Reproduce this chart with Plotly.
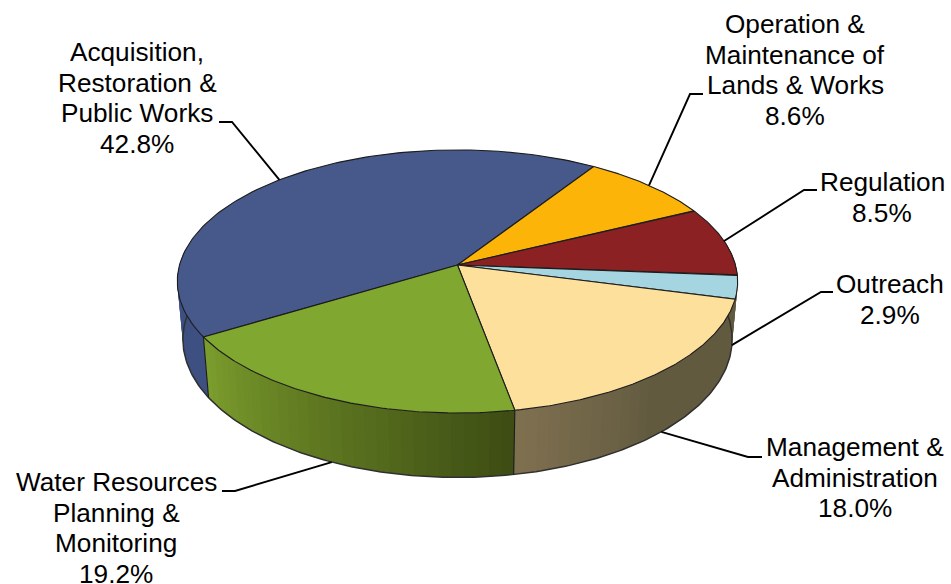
import numpy as np
import plotly.graph_objects as go

# Budget shares, clockwise from the left-front edge of the disc
categories = ["Acquisition, Restoration & Public Works", "Operation & Maintenance of Lands & Works",
              "Regulation", "Outreach", "Management & Administration",
              "Water Resources Planning & Monitoring"]
shares = [42.8, 8.6, 8.5, 2.9, 18.0, 19.2]
label_lines = [
    ["Acquisition,", "Restoration &", "Public Works", "42.8%"],
    ["Operation &", "Maintenance of", "Lands & Works", "8.6%"],
    ["Regulation", "8.5%"],
    ["Outreach", "2.9%"],
    ["Management &", "Administration", "18.0%"],
    ["Water Resources", "Planning &", "Monitoring", "19.2%"],
]
top_colors = ["#46598A", "#FDB409", "#8B2122", "#A6D5E2", "#FCE09B", "#80A72F"]
# Wall shading, left end then right end of each visible stretch
wall_left = ["#3E5082", "#B08000", "#601010", "#625A3F", "#7F7050", "#7C9E2D"]
wall_right = ["#3E5082", "#B08000", "#601010", "#625A3F", "#625A3F", "#3D4C13"]

# Label placement: centre x, first row y, and leader elbow (text end, bend)
label_x = [137, 795, 882, 890, 855, 116]
label_y = [52, 24, 182, 284, 447, 482]
line_step = 30.7
elbow_x = [[219, 232], [703, 690], [817, 804], [833, 821], [762, 748], [222, 235]]
elbow_y = [122, 94, 190, 292, 457, 491]
# Leaders attach to the top rim at the back and to the base rim at the front
leader_on_base = [False, False, False, True, True, True]

# Disc projection
CX, CY, A, B, K = 457.5, 265.0, 278.0, 129.5, 0.125
BASE_CY, BASE_SCALE_X, BASE_SCALE_Y = 322.0, 0.98, 1.05
START_DEG = 211.3
WALL_WINDOW = np.radians([-188.0, 10.0])


def rim(t, base=False):
    c, s = np.cos(t), np.sin(t)
    w = 1 + K * s
    if base:
        return CX + BASE_SCALE_X * A * c / w, BASE_CY - BASE_SCALE_Y * B * s / w
    return CX + A * c / w, CY - B * s / w


def mix(c1, c2, f):
    a = [int(c1[i:i + 2], 16) for i in (1, 3, 5)]
    b = [int(c2[i:i + 2], 16) for i in (1, 3, 5)]
    return "rgb(%d,%d,%d)" % tuple(round(p + (q - p) * f) for p, q in zip(a, b))


def poly(x, y, fill, line_color, width):
    return go.Scatter(x=list(x), y=list(y), mode="lines", fill="toself", fillcolor=fill,
                      line=dict(color=line_color, width=width), hoverinfo="skip", showlegend=False)


def outline(x, y, color="#1c1c1c", width=1.1):
    return go.Scatter(x=list(x), y=list(y), mode="lines", line=dict(color=color, width=width),
                      hoverinfo="skip", showlegend=False)


angles = np.radians(START_DEG) - np.cumsum([0] + shares) / 100 * 2 * np.pi
fig = go.Figure()

# Side wall: only the part of the disc facing the viewer is built.
# Each strip runs over into the next one so no seams show through.
for i in range(len(shares)):
    for turn in (0, 2 * np.pi):
        hi = min(angles[i] - turn, WALL_WINDOW[1])
        lo = max(angles[i + 1] - turn, WALL_WINDOW[0])
        if hi <= lo:
            continue
        n = 30
        edges = np.linspace(lo, hi, n + 1)
        for j in range(n):
            t = np.linspace(edges[j], edges[min(j + 2, n)], 4)
            ux, uy = rim(t)
            lx, ly = rim(t[::-1], base=True)
            f = (j + 0.5) / n
            if i == 4:
                f = min(1.0, f * 2.2)
            color = mix(wall_left[i], wall_right[i], f)
            fig.add_trace(poly(np.r_[ux, lx, ux[0]], np.r_[uy, ly, uy[0]], color, "rgba(0,0,0,0)", 0))

# Base rim and wall edges
span = np.linspace(WALL_WINDOW[0], WALL_WINDOW[1], 240)
fig.add_trace(outline(*rim(span, base=True), color="#303030", width=1.5))
for t0 in (angles[0], angles[5]):
    ux, uy = rim(t0)
    lx, ly = rim(t0, base=True)
    fig.add_trace(outline([ux, lx], [uy, ly]))

# Top face wedges
for i in range(len(shares)):
    t = np.linspace(angles[i], angles[i + 1], 120)
    rx, ry = rim(t)
    fig.add_trace(poly(np.r_[CX, rx, CX], np.r_[CY, ry, CY], top_colors[i], "#1c1c1c", 1.1))

# Leaders and labels
mids = (angles[:-1] + angles[1:]) / 2
annotations = []
for i, lines in enumerate(label_lines):
    ax, ay = rim(mids[i], base=leader_on_base[i])
    fig.add_trace(outline([elbow_x[i][0], elbow_x[i][1], ax],
                          [elbow_y[i], elbow_y[i], ay], color="#000000", width=1.9))
    for k, text in enumerate(lines):
        annotations.append(dict(x=label_x[i], y=label_y[i] + k * line_step, text=text,
                                xref="x", yref="y", showarrow=False, xanchor="center", yanchor="middle",
                                font=dict(family="Liberation Sans", size=26.2, color="#000000")))

fig.update_layout(
    width=951, height=584, autosize=False,
    margin=dict(l=0, r=0, t=0, b=0),
    paper_bgcolor="white", plot_bgcolor="white",
    showlegend=False, annotations=annotations,
    xaxis=dict(range=[0, 951], visible=False, fixedrange=True),
    yaxis=dict(range=[584, 0], visible=False, fixedrange=True),
)
fig.write_html("out.html", config=dict(displayModeBar=False))
